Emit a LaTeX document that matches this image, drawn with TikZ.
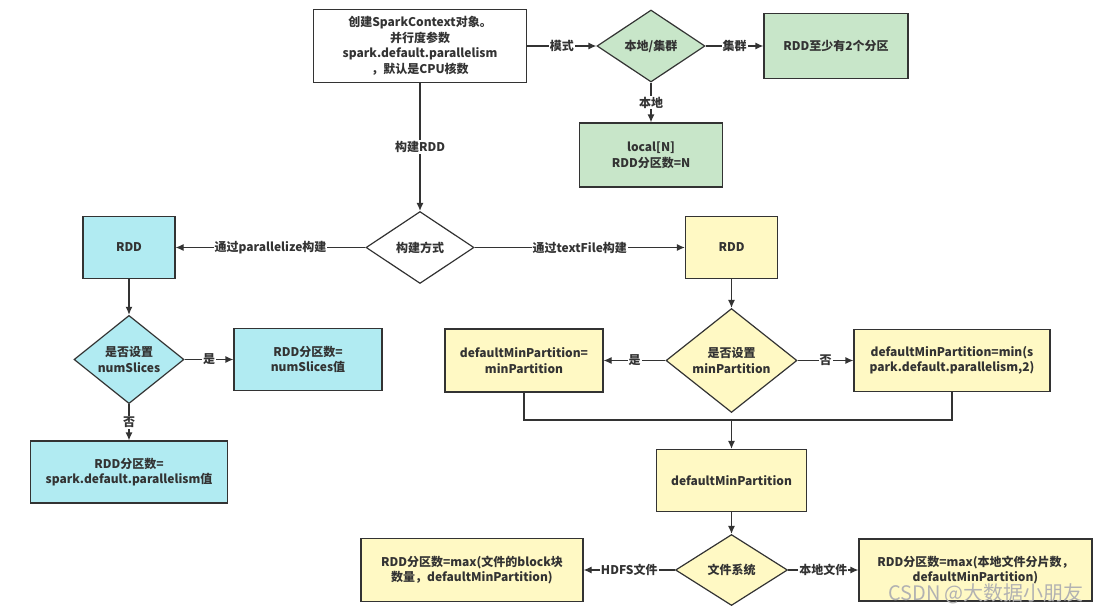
\documentclass[tikz,border=0pt]{standalone}
\usepackage{fontspec}
\setmainfont{Noto Sans CJK SC}
\usetikzlibrary{arrows.meta,shapes.geometric}
\definecolor{linecolor}{RGB}{51,51,51}
\definecolor{greenfill}{RGB}{200,230,201}
\definecolor{cyanfill}{RGB}{177,235,242}
\definecolor{yellowfill}{RGB}{255,249,196}
\tikzset{
  box/.style={draw=linecolor,line width=1.2pt,align=center,inner sep=2pt,text=linecolor},
  cond/.style={diamond,draw=linecolor,line width=1.2pt,align=center,inner sep=0pt,text=linecolor},
  arr/.style={-{Latex[length=8pt,width=7pt]},line width=1.2pt,draw=linecolor},
  lbl/.style={fill=white,inner sep=1pt,text=linecolor},
}

\begin{document}
\begin{tikzpicture}[x=1pt,y=-1pt,font=\fontsize{12}{15.5}\selectfont\bfseries]
	\useasboundingbox (0,0) rectangle (1097,611);
	%初始化与模式
	\node[box,minimum width=213pt,minimum height=73pt] (ctx) at (420,46) {创建SparkContext对象。\\并行度参数\\spark.default.parallelism\\，默认是CPU核数};
	\node[cond,fill=greenfill,minimum width=108pt,minimum height=72pt] (mode) at (651,46) {本地/集群};
	\node[box,fill=greenfill,minimum width=144pt,minimum height=65pt] (cluster) at (836,46) {RDD至少有2个分区};
	\node[box,fill=greenfill,minimum width=143pt,minimum height=64pt] (local) at (651,155) {local[N]\\RDD分区数=N};
	\draw[arr] (ctx) -- node[lbl]{模式} (mode);
	\draw[arr] (mode) -- node[lbl]{集群} (cluster);
	\draw[arr] (mode) -- node[lbl]{本地} (local);
	
	%构建方式
	\node[cond,minimum width=108pt,minimum height=72pt] (how) at (420,247.5) {构建方式};
	\node[box,fill=cyanfill,minimum width=92pt,minimum height=62pt] (prdd) at (129,247.5) {RDD};
	\node[box,fill=yellowfill,minimum width=92pt,minimum height=62pt] (trdd) at (731.5,247.5) {RDD};
	\draw[arr] (ctx) -- node[lbl]{构建RDD} (how);
	\draw[arr] (how) -- node[lbl]{通过parallelize构建} (prdd);
	\draw[arr] (how) -- node[lbl]{通过textFile构建} (trdd);
	
	%parallelize分支
	\node[cond,fill=cyanfill,minimum width=110pt,minimum height=73pt] (slices) at (129,359.5) {是否设置\\numSlices};
	\node[box,fill=cyanfill,minimum width=148pt,minimum height=62pt] (sliceyes) at (308,359.5) {RDD分区数=\\numSlices值};
	\node[box,fill=cyanfill,minimum width=197pt,minimum height=62pt] (sliceno) at (129,472) {RDD分区数=\\spark.default.parallelism值};
	\draw[arr] (prdd) -- (slices);
	\draw[arr] (slices) -- node[lbl]{是} (sliceyes);
	\draw[arr] (slices) -- node[lbl]{否} (sliceno);
	
	%textFile分支
	\node[cond,fill=yellowfill,minimum width=131pt,minimum height=79pt] (minp) at (731.5,360.5) {是否设置\\minPartition};
	\node[box,fill=yellowfill,minimum width=158pt,minimum height=63pt] (minyes) at (524,360.5) {defaultMinPartition=\\minPartition};
	\node[box,fill=yellowfill,minimum width=196pt,minimum height=62pt] (minno) at (952,360.5) {defaultMinPartition=min(s\\park.default.parallelism,2)};
	\coordinate (join) at (731.5,420);
	\node[box,fill=yellowfill,minimum width=150pt,minimum height=62pt] (dmp) at (731.5,480.5) {defaultMinPartition};
	\draw[arr] (trdd) -- (minp);
	\draw[arr] (minp) -- node[lbl]{是} (minyes);
	\draw[arr] (minp) -- node[lbl]{否} (minno);
	\draw[line width=1.2pt,draw=linecolor] (minyes.south) |- (join) -| (minno.south);
	\draw[arr] (join) -- (dmp);
	
	%文件系统
	\node[cond,fill=yellowfill,minimum width=112pt,minimum height=71pt] (fs) at (731.5,570) {文件系统};
	\node[box,fill=yellowfill,minimum width=222pt,minimum height=63pt] (hdfs) at (472,570) {RDD分区数=max(文件的block块\\数量，defaultMinPartition)};
	\node[box,fill=yellowfill,minimum width=233pt,minimum height=62pt] (localfs) at (975.5,570) {RDD分区数=max(本地文件分片数，\\defaultMinPartition)};
	\draw[arr] (dmp) -- (fs);
	\draw[arr] (fs) -- node[lbl]{HDFS文件} (hdfs);
	\draw[arr] (fs) -- node[lbl]{本地文件} (localfs);
	
	%水印
	\node[text=gray!60,font=\fontsize{20}{20}\selectfont] (mark) at (986,594) {CSDN @大数据小朋友};
\end{tikzpicture}
\end{document}
